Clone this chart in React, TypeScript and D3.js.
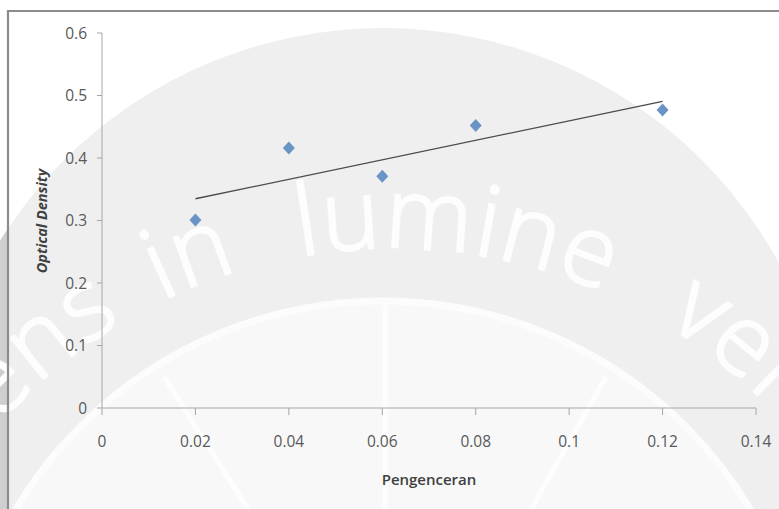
import React from "react";
import * as d3 from "d3";

const xValues = [0.02, 0.04, 0.06, 0.08, 0.12];
const yValues = [0.301, 0.416, 0.371, 0.452, 0.477];
const xTicks = [0, 0.02, 0.04, 0.06, 0.08, 0.1, 0.12, 0.14];
const yTicks = [0, 0.1, 0.2, 0.3, 0.4, 0.5, 0.6];
const xTitle = "Pengenceran";
const yTitle = "Optical Density";
const watermarkWords = ["Serviens", "in", "lumine", "veritatis"];

const W = 779;
const H = 509;

function regression(xs: number[], ys: number[]) {
  const mx = d3.mean(xs)!;
  const my = d3.mean(ys)!;
  let sxy = 0, sxx = 0;
  xs.forEach((x, i) => {
    sxy += (x - mx) * (ys[i] - my);
    sxx += (x - mx) * (x - mx);
  });
  const b = sxy / sxx;
  return { slope: b, intercept: my - b * mx };
}

export default function App() {
  const x = d3.scaleLinear().domain([0, 0.14]).range([102, 756]);
  const y = d3.scaleLinear().domain([0, 0.6]).range([408, 33]);
  const fmt = (v: number) => (v === 0 ? "0" : String(+v.toFixed(2)));
  const reg = regression(xValues, yValues);
  const x0 = d3.min(xValues)!;
  const x1 = d3.max(xValues)!;
  const trend = d3.line<number>()
    .x((d) => x(d))
    .y((d) => y(reg.intercept + reg.slope * d))([x0, x1]);

  // watermark geometry
  const outer = { cx: 383, cy: 479, r: 451 };
  const inner = { cx: 383, cy: 729, r: 426 };
  const tc = { cx: 392, cy: 776, r: 528 };
  const textArc = `M ${tc.cx - tc.r} ${tc.cy} A ${tc.r} ${tc.r} 0 0 1 ${tc.cx + tc.r} ${tc.cy}`;
  const arcOffset = (px: number) => tc.r * (Math.PI / 2 + Math.asin((px - tc.cx) / tc.r));
  const wordX = [124, 162, 300, 665];

  return (
    <svg width={W} height={H} style={{ position: "absolute", left: 0, top: 0, background: "#fff" }}>
      <defs>
        <path id="wmArc" d={textArc} />
        <clipPath id="innerClip">
          <circle cx={inner.cx} cy={inner.cy} r={inner.r} />
        </clipPath>
        <clipPath id="outerClip">
          <circle cx={outer.cx} cy={outer.cy} r={outer.r} />
        </clipPath>
      </defs>
      {/* watermark */}
      <g>
        <circle cx={outer.cx} cy={outer.cy} r={outer.r} fill="#efefef" />
        <rect x={0} y={0} width={7} height={H} fill="#cfcfcf" clipPath="url(#outerClip)" />
        <circle cx={inner.cx} cy={inner.cy} r={inner.r} fill="#f8f8f8" />
        <circle cx={inner.cx} cy={inner.cy} r={inner.r + 2} fill="none" stroke="#fcfcfc" strokeWidth={7} />
        <g clipPath="url(#innerClip)" stroke="#fdfdfd" strokeWidth={5}>
          <line x1={164} y1={377} x2={248} y2={509} />
          <line x1={385} y1={303} x2={385} y2={509} />
          <line x1={606} y1={377} x2={531} y2={509} />
        </g>
        <g
          fontFamily="Open Sans, sans-serif"
          fontWeight={300}
          fontSize={98}
          fill="#fdfdfd"
          stroke="#fdfdfd"
          strokeWidth={2.5}
          strokeLinejoin="round"
          letterSpacing={2}
        >
          {watermarkWords.map((w, i) => (
            <text key={"wm" + i}>
              <textPath href="#wmArc" startOffset={arcOffset(wordX[i])} textAnchor={i === 0 ? "end" : "start"}>
                {w}
              </textPath>
            </text>
          ))}
        </g>
      </g>
      {/* frame */}
      <path d={`M8,${H} V11 H${W}`} fill="none" stroke="#8c8c8c" strokeWidth={2.2} />
      {/* axes */}
      <g stroke="#a6a6a6" strokeWidth={1} fill="none">
        <line x1={x(0)} x2={x(0)} y1={y(0.6)} y2={y(0)} />
        <line x1={x(0)} x2={x(0.14)} y1={y(0)} y2={y(0)} />
        {yTicks.map((t) => (
          <line key={"yt" + t} x1={x(0) - 5} x2={x(0)} y1={y(t)} y2={y(t)} />
        ))}
        {xTicks.map((t) => (
          <line key={"xt" + t} x1={x(t)} x2={x(t)} y1={y(0)} y2={y(0) + 7} />
        ))}
      </g>
      <g fontFamily="Open Sans, sans-serif" fontSize={15.5} fill="#595959">
        {yTicks.map((t) => (
          <text key={"yl" + t} x={87} y={y(t)} dy="0.36em" textAnchor="end">
            {fmt(t)}
          </text>
        ))}
        {xTicks.map((t) => (
          <text key={"xl" + t} x={x(t)} y={447} textAnchor="middle">
            {fmt(t)}
          </text>
        ))}
      </g>
      <text
        x={429}
        y={485}
        textAnchor="middle"
        fontFamily="Open Sans, sans-serif"
        fontWeight={600}
        fontSize={15}
        fill="#404040"
      >
        {xTitle}
      </text>
      <text
        transform={`translate(47,221) rotate(-90)`}
        textAnchor="middle"
        fontFamily="Open Sans, sans-serif"
        fontWeight={700}
        fontStyle="italic"
        fontSize={14.5}
        fill="#404040"
      >
        {yTitle}
      </text>
      {/* trendline */}
      <path d={trend || ""} fill="none" stroke="#4a4a4a" strokeWidth={1.3} />
      {/* points */}
      {xValues.map((xv, i) => (
        <path
          key={"p" + i}
          transform={`translate(${x(xv)},${y(yValues[i])})`}
          d="M0,-6.5L6,0L0,6.5L-6,0Z"
          fill="#6b94c6"
        />
      ))}
    </svg>
  );
}
